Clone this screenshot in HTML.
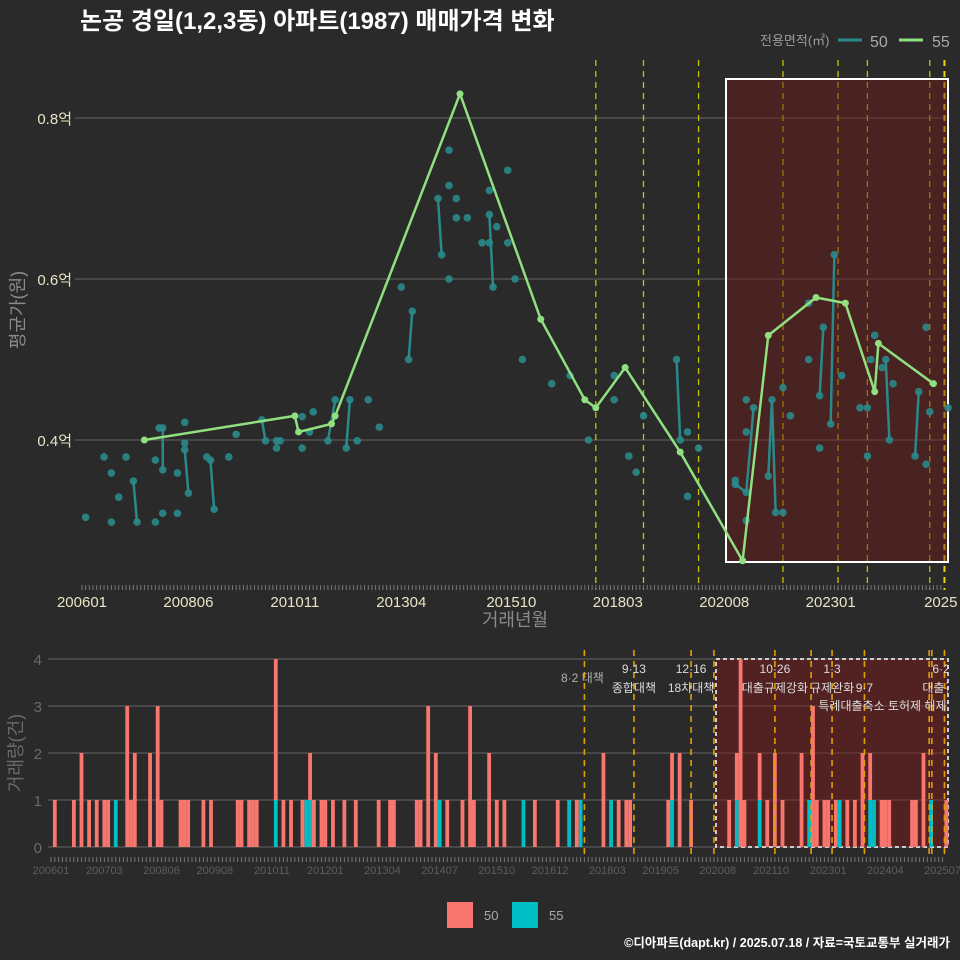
<!DOCTYPE html>
<html><head><meta charset="utf-8">
<style>
html,body{margin:0;padding:0;background:#2b2a2a;}
svg{display:block;font-family:"Liberation Sans","Noto Sans CJK KR",sans-serif;}
</style></head>
<body>
<svg id="c" width="960" height="960" viewBox="0 0 960 960" xmlns="http://www.w3.org/2000/svg">
<rect x="0" y="0" width="960" height="960" fill="#2b2a2a"/>
<text x="80" y="29" fill="#ffffff" font-size="24" font-weight="bold">논공 경일(1,2,3동) 아파트(1987) 매매가격 변화</text>
<g>
<text x="760" y="45" fill="#9a9a9a" font-size="13">전용면적(㎡)</text>
<line x1="838" y1="40" x2="862" y2="40" stroke="#2a8a8a" stroke-width="3"/>
<text x="870" y="47" fill="#aaaaaa" font-size="16">50</text>
<line x1="899" y1="40" x2="923" y2="40" stroke="#90e080" stroke-width="3"/>
<text x="932" y="47" fill="#aaaaaa" font-size="16">55</text>
</g>
<g id="topg"></g>
<g id="botg"></g>
<g>
<rect x="447" y="902" width="26" height="26" fill="#f8766d"/>
<text x="484" y="920" fill="#aaaaaa" font-size="13">50</text>
<rect x="512" y="902" width="26" height="26" fill="#00bfc4"/>
<text x="549" y="920" fill="#aaaaaa" font-size="13">55</text>
</g>
<text x="950" y="947" fill="#ffffff" font-size="12.5" font-weight="bold" text-anchor="end">©디아파트(dapt.kr) / 2025.07.18 / 자료=국토교통부 실거래가</text>
</svg>
<script>
const xTickLabels = ["200601","200806","201011","201304","201510","201803","202008","202301","2025"];
const xTickMonths = [0,29,58,87,117,146,175,204,234];
const yTickValues = [0.4,0.6,0.8];
const series55Months = [17,58,59,68,69,103,125,137,140,148,163,180,187,200,208,216,217,232];
const series55Values = [0.40,0.43,0.41,0.42,0.43,0.83,0.55,0.45,0.44,0.49,0.385,0.25,0.53,0.577,0.57,0.46,0.52,0.47];
const series50Months = [1,6,8,8,10,12,14,15,20,20,21,22,22,22,26,26,28,28,28,29,34,35,36,40,42,49,50,53,53,54,60,60,62,63,67,69,72,73,75,78,81,87,89,90,97,98,100,100,100,102,102,105,109,111,111,112,111,113,116,116,118,120,128,133,138,145,145,149,151,153,162,163,165,165,168,178,181,181,178,181,183,181,187,188,189,191,191,193,198,198,201,202,201,204,205,207,212,214,214,215,216,218,219,220,221,227,228,230,230,231,236];
const series50Values = [0.304,0.379,0.359,0.298,0.329,0.379,0.349,0.298,0.298,0.375,0.415,0.415,0.363,0.309,0.309,0.359,0.422,0.396,0.388,0.334,0.379,0.375,0.314,0.379,0.407,0.425,0.399,0.39,0.399,0.399,0.429,0.39,0.41,0.435,0.399,0.45,0.39,0.45,0.399,0.45,0.416,0.59,0.50,0.56,0.70,0.63,0.76,0.716,0.60,0.70,0.676,0.676,0.645,0.71,0.68,0.59,0.645,0.665,0.735,0.645,0.60,0.50,0.47,0.48,0.40,0.48,0.45,0.38,0.36,0.43,0.50,0.40,0.41,0.33,0.39,0.35,0.45,0.41,0.345,0.335,0.44,0.30,0.355,0.45,0.31,0.31,0.465,0.43,0.50,0.57,0.455,0.54,0.39,0.42,0.63,0.48,0.44,0.44,0.38,0.50,0.53,0.49,0.50,0.40,0.47,0.38,0.46,0.54,0.37,0.435,0.44];
const series50Link = [0,0,0,0,0,0,0,1,0,0,0,0,1,0,0,0,0,0,0,1,0,0,1,0,0,0,1,0,0,0,0,0,0,0,0,1,0,1,0,0,0,0,0,1,0,1,0,0,0,0,0,0,0,0,0,1,0,0,0,0,0,0,0,0,0,0,0,0,0,0,0,1,0,0,0,0,0,0,0,1,1,0,0,1,1,0,0,0,0,0,0,1,0,0,1,0,0,0,0,0,0,0,0,1,0,0,1,0,0,0,0];
const policyMonthsTop = [140,153,168,191,206,214,231,235];
const volMonths50 = [1,6,8,10,12,14,15,20,21,22,26,28,29,34,35,36,40,42,49,50,52,53,54,59,61,63,66,68,69,71,72,74,77,80,86,89,90,96,97,99,101,104,108,110,111,115,117,119,127,133,138,145,149,151,152,162,163,165,168,178,180,181,182,186,188,190,192,197,200,201,203,204,206,209,211,213,215,218,219,220,226,227,229,235];
const volCounts50 = [1,1,2,1,1,1,1,3,1,2,2,3,1,1,1,1,1,1,1,1,1,1,1,3,1,1,1,1,1,1,1,1,1,1,1,1,1,1,1,3,2,1,1,3,1,2,1,1,1,1,1,2,1,1,1,1,1,2,1,1,1,4,1,1,1,2,1,2,3,1,1,1,1,1,1,2,1,1,1,1,1,1,2,1];
const volMonths55 = [17,59,67,68,102,124,136,139,147,163,180,186,199,207,215,216,231];
const volCounts55 = [1,1,1,1,1,1,1,1,1,1,1,1,1,1,1,1,1];
const volTickLabels = ["200601","200703","200806","200908","201011","201201","201304","201407","201510","201612","201803","201905","202008","202110","202301","202404","202507"];
const volTickMonths = [0,14,29,43,58,72,87,102,117,131,146,160,175,189,204,219,234];
const volYTicks = [0,1,2,3,4];
const policyMonthsBot = [140,153,168,174,190,199.5,205,213.5,230.5,231.2,234.5];
const policyDates = ["8·2 대책","9·13","12·16","10·26","1·3","9·7","6·27"];
const policyDescs = ["","종합대책","18차대책","대출규제강화","규제완화","특례대출축소 토허제 해제","대출규제"];
const policyLabelMonths = [140,153,168,190,205,213.5,234.5];

const NS="http://www.w3.org/2000/svg";
function mk(parent,tag,attrs){const e=document.createElementNS(NS,tag);for(const k in attrs)e.setAttribute(k,attrs[k]);parent.appendChild(e);return e;}
const topG=document.getElementById('topg'), botG=document.getElementById('botg');
const tx=m=>82+m*3.67, ty=v=>440-(v-0.4)*805;
const bx=m=>51+m*3.81, by=c=>847-c*47;

yTickValues.forEach((v,i)=>{
  const g=mk(topG,'line',{x1:75,x2:948,y1:ty(v),y2:ty(v),stroke:'#5a5a5a','stroke-width':1.2});
  
  
  const t=mk(topG,'text',{x:72,y:ty(v)+6,fill:'#e8e4c4','font-size':15,'text-anchor':'end'});
  t.textContent=v.toFixed(1)+'억';
  
  
});
policyMonthsTop.forEach((m,i)=>{
  const l=mk(topG,'line',{x1:tx(m),x2:tx(m),y1:60,y2:590,stroke:i==7?'#e8d800':'#c8c000','stroke-width':i==7?2:1.3,'stroke-dasharray':'6,5'});
  
  
});
const hb=mk(topG,'rect',{x:726,y:79,width:222,height:483,fill:'rgba(110,25,25,0.45)',stroke:'#ffffff','stroke-width':2});


for(let m=0;m<=234;m++){
  const k=mk(topG,'line',{x1:tx(m),x2:tx(m),y1:585,y2:590,stroke:'#777','stroke-width':1});
  
  
}
xTickLabels.forEach((s,i)=>{
  const t=mk(topG,'text',{x:tx(xTickMonths[i]),y:607,fill:'#e8e4c4','font-size':15,'text-anchor':'middle'});
  t.textContent=s;
  
  
});
{const t=mk(topG,'text',{x:515,y:626,fill:'#8a8a8a','font-size':18,'text-anchor':'middle'});t.textContent='거래년월';


const t2=mk(topG,'text',{x:0,y:0,fill:'#8a8a8a','font-size':18,'text-anchor':'middle',transform:'translate(24,310) rotate(-90)'});t2.textContent='평균가(원)';

}
for(let i=1;i<series50Months.length;i++){
  if(series50Link[i]){
    const l=mk(topG,'line',{x1:tx(series50Months[i-1]),y1:ty(series50Values[i-1]),x2:tx(series50Months[i]),y2:ty(series50Values[i]),stroke:'#2a8a8a','stroke-width':2.5});
    
    
  }
}
series50Months.forEach((m,i)=>{
  const c=mk(topG,'circle',{cx:tx(m),cy:ty(series50Values[i]),r:3.8,fill:'#2a8a8a','fill-opacity':0.9});
  
  
});
{const pts=series55Months.map((m,i)=>tx(m)+','+ty(series55Values[i])).join(' ');
const pl=mk(topG,'polyline',{points:pts,fill:'none',stroke:'#90e080','stroke-width':2.5});

}
series55Months.forEach((m,i)=>{
  const c=mk(topG,'circle',{cx:tx(m),cy:ty(series55Values[i]),r:3.5,fill:'#90e080'});
  
  
});

volYTicks.forEach(v=>{
  const g=mk(botG,'line',{x1:48,x2:948,y1:by(v),y2:by(v),stroke:'#5a5a5a','stroke-width':1.2});
  
  
  const t=mk(botG,'text',{x:42,y:by(v)+6,fill:'#6a6a6a','font-size':15,'text-anchor':'end'});
  t.textContent=v;
  
  
});
const bb=mk(botG,'rect',{x:716,y:659,width:232,height:188,fill:'rgba(130,25,25,0.45)',stroke:'#cccccc','stroke-width':2,'stroke-dasharray':'4,3'});


const stack={};
volMonths55.forEach((m,i)=>{
  const c=volCounts55[i];
  const r=mk(botG,'rect',{x:bx(m)-1.9,y:by(c),width:3.8,height:by(0)-by(c),fill:'#00bfc4'});
  
  
  stack[m]=c;
});
volMonths50.forEach((m,i)=>{
  const base=stack[m]||0, c=volCounts50[i];
  const r=mk(botG,'rect',{x:bx(m)-1.9,y:by(base+c),width:3.8,height:by(base)-by(base+c),fill:'#f8766d'});
  
  
});
policyMonthsBot.forEach(m=>{
  const l=mk(botG,'line',{x1:bx(m),x2:bx(m),y1:650,y2:856,stroke:'#e0a000','stroke-width':1.6,'stroke-dasharray':'6,5'});
  
  
});
const clip=mk(botG,'clipPath',{id:'bc'});mk(clip,'rect',{x:0,y:640,width:948,height:80});
const lab=mk(botG,'g',{'clip-path':'url(#bc)'});
policyLabelMonths.forEach((m,i)=>{
  const x=bx(m);
  if(i===0){
    const t=mk(lab,'text',{x:x-2,y:682,fill:'#b0b0b0','font-size':12,'text-anchor':'middle'});t.textContent=policyDates[i];
    
    
    return;
  }
  if(i!==5){
    const t=mk(lab,'text',{x:x,y:673,fill:'#dddddd','font-size':12,'text-anchor':'middle'});t.textContent=policyDates[i];
    
    
  }
  const ty2=i===5?710:692;
  const t2=mk(lab,'text',{x:i===5?x+18:x,y:ty2,fill:'#dddddd','font-size':12,'text-anchor':'middle'});t2.textContent=policyDescs[i];
  
  
  if(i===5){const t3=mk(lab,'text',{x:x,y:692,fill:'#dddddd','font-size':12,'text-anchor':'middle'});t3.textContent=policyDates[i];
    
    }
});
for(let m=0;m<=234;m++){
  const k=mk(botG,'line',{x1:bx(m),x2:bx(m),y1:857,y2:862,stroke:'#777','stroke-width':1});
  
  
}
volTickLabels.forEach((s,i)=>{
  const t=mk(botG,'text',{x:bx(volTickMonths[i]),y:874,fill:'#5e5e5e','font-size':11,'text-anchor':'middle'});
  t.textContent=s;
  
  
});
{const t=mk(botG,'text',{x:0,y:0,fill:'#6a6a6a','font-size':18,'text-anchor':'middle',transform:'translate(22,753) rotate(-90)'});t.textContent='거래량(건)';

}
</script>
</body></html>
